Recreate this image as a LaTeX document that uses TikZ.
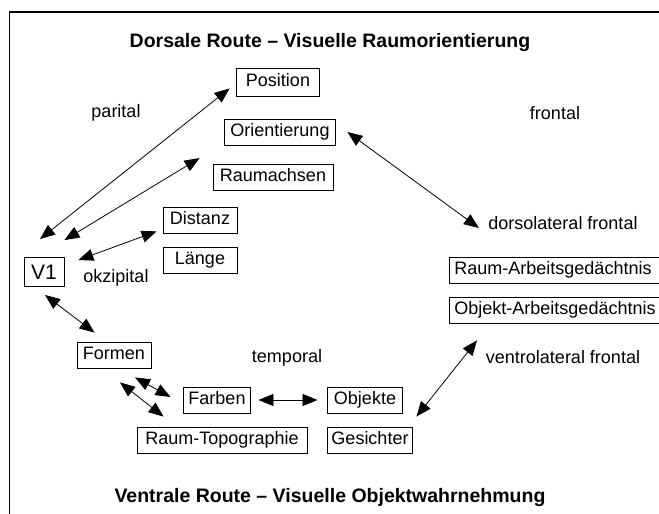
\documentclass[tikz,border=0pt]{standalone}
\usepackage{fontspec}
\setmainfont{Liberation Sans}
\usetikzlibrary{arrows.meta}
\tikzset{
  area node/.style={
    draw,
    line width=0.9pt,
    inner xsep=0pt,
    inner ysep=4.6pt,
    text height=12.9pt,
    text depth=3.8pt,
    font=\fontsize{18}{22}\selectfont,
  },
  memory node/.style={
    area node,
    anchor=west,
    inner xsep=5pt,
    text width=208pt,
    align=left,
  },
  area text/.style={
    font=\fontsize{18}{22}\selectfont,
  },
  route title/.style={
    font=\fontsize{19.5}{23}\selectfont\bfseries,
  },
  link/.style={
    {Triangle[length=15pt, width=12pt]}-{Triangle[length=15pt, width=12pt]},
    line width=0.8pt,
  },
}

\begin{document}
\begin{tikzpicture}[x=1pt, y=-1pt]
      \useasboundingbox (0,0) rectangle (659,514);
      \clip (0,0) rectangle (659,514);
      \draw[line width=1.3pt] (9.5,514) -- (9.5,12) -- (659,12);

      \node[route title] (dorsal) at (330,43) {Dorsale Route – Visuelle Raumorientierung};
      \node[area node, minimum width=83pt, minimum height=28pt] (position) at (278,82) {Position};
      \node[area text] (parietal) at (116,113) {parital};
      \node[area text] (frontal) at (555,113) {frontal};
      \node[area node, minimum width=111pt] (orient) at (280,132) {Orientierung};
      \node[area node, minimum width=120pt] (achsen) at (273,177) {Raumachsen};
      \node[area node, minimum width=74pt] (distanz) at (200,220) {Distanz};
      \node[area node, minimum width=74pt] (laenge) at (200,260) {Länge};
      \node[area text] (dorsolat) at (563,223) {dorsolateral frontal};
      \node[area node, minimum width=40pt, minimum height=29pt, inner ysep=3pt, text height=15pt, text depth=0.5pt,
            font=\fontsize{21}{25}\selectfont] (v1) at (44,272) {V1};
      \node[area text] (okzipital) at (116,278) {okzipital};
      \node[memory node] (raumwm) at (449,270) {Raum-Arbeitsgedächtnis};
      \node[memory node] (objektwm) at (449,310) {Objekt-Arbeitsgedächtnis};
      \node[area node, minimum width=74pt] (formen) at (114,355) {Formen};
      \node[area text] (temporal) at (287,358) {temporal};
      \node[area text] (ventrolat) at (563,357) {ventrolateral frontal};
      \node[area node, minimum width=67pt] (farben) at (217,400) {Farben};
      \node[area node, minimum width=75pt] (objekte) at (365,400) {Objekte};
      \node[area node, minimum width=170pt] (topo) at (222,440) {Raum-Topographie};
      \node[area node, minimum width=85pt] (gesichter) at (370,440) {Gesichter};
      \node[route title] (ventral) at (330,497) {Ventrale Route – Visuelle Objektwahrnehmung};

      \draw[link] ([shift={(-4,-18)}]v1.north) -- ([shift={(-6.5,-8)}]position.south west);
      \draw[link] ([shift={(0,-17)}]v1.north east) -- ([shift={(-13,-5.5)}]achsen.north west);
      \draw[link] ([shift={(14,3)}]v1.north east) -- ([shift={(-6,-2)}]distanz.south west);
      \draw[link] ([shift={(1,8)}]v1.south) -- ([shift={(18,-9)}]formen.north west);
      \draw[link] ([shift={(21,9)}]formen.south) -- ([shift={(-12.5,-3)}]farben.west);
      \draw[link] ([shift={(6,14)}]formen.south) -- ([shift={(27,-10)}]topo.north west);
      \draw[link] ([shift={(7.5,0)}]farben.east) -- ([shift={(-9.5,0)}]objekte.west);
      \draw[link] ([shift={(3.5,-10)}]gesichter.north east) -- ([shift={(28,17)}]objektwm.south west);
      \draw[link] ([shift={(11.5,0)}]orient.east) -- ([shift={(-6,5)}]dorsolat.west);
    \end{tikzpicture}
\end{document}
